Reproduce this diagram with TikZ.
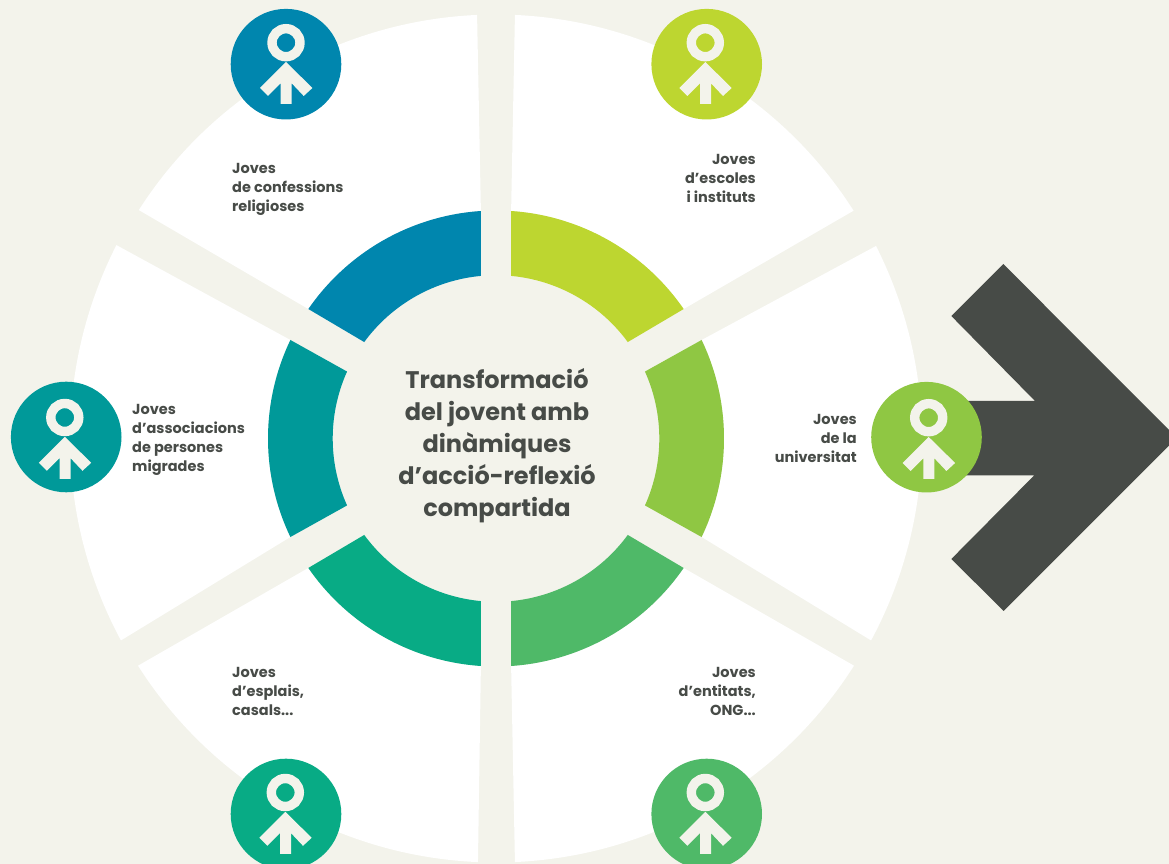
\documentclass[tikz,border=0pt]{standalone}
\usepackage{fontspec}
\setmainfont{Poppins}
\definecolor{bgc}{HTML}{F3F3EB}
\definecolor{darkc}{HTML}{474B47}
\definecolor{cblue}{HTML}{0086AE}
\definecolor{clime}{HTML}{BDD630}
\definecolor{cgreen}{HTML}{8FC743}
\definecolor{cgreenb}{HTML}{4FB968}
\definecolor{cteal}{HTML}{08AB85}
\definecolor{cteall}{HTML}{009999}
\tikzset{
  labeltext/.style={text=darkc,inner sep=0pt,font=\fontsize{14.5}{19}\selectfont\bfseries},
  titletext/.style={text=darkc,inner sep=0pt,align=center,font=\fontsize{24}{32}\selectfont\bfseries},
  badge/.style={circle,inner sep=0pt,minimum size=110.6pt,fill=#1},
}
% band: outer start/end angles, inner end/start angles, outer and inner radius, colour
\newcommand{\bandshape}[7]{%
  \fill[#7] (#1:#5pt) arc[start angle=#1,end angle=#2,radius=#5pt]
    -- (#3:#6pt) arc[start angle=#3,end angle=#4,radius=#6pt] -- cycle;}
\newcommand{\personmark}[2]{%
  \begin{scope}[shift={(#1,#2)}]
    \draw[bgc,line width=9.4pt] (-1.4,21.5) circle[radius=14pt];
    \fill[bgc] (-1.4,2.2) -- (25,-23.8) -- (16.3,-31.8) -- (4.3,-19.1) -- (4.3,-39.8)
      -- (-6.7,-39.8) -- (-6.7,-19.1) -- (-19.4,-31.8) -- (-27.4,-23.8) -- cycle;
  \end{scope}}
\begin{document}
\begin{tikzpicture}[x=1pt,y=1pt]
\clip (0,0) rectangle (1169,864);
\fill[bgc] (0,0) rectangle (1169,864);
\begin{scope}[shift={(496,425.5)}]
  % white sectors
  \bandshape{87.44}{32.5}{34.6}{86.2}{424}{228}{white}
  \bandshape{26.87}{-28.3}{-25.6}{25.6}{426}{228}{white}
  \bandshape{-32.4}{-87.44}{-86.2}{-34.6}{424}{228}{white}
  \bandshape{267.56}{212.4}{214.6}{266.2}{424}{228}{white}
  \bandshape{208.3}{153}{154.4}{205.6}{426}{228}{white}
  \bandshape{147.4}{92.56}{93.8}{145.4}{424}{228}{white}
  % coloured ring
  \bandshape{86.2}{34.6}{36.2}{84.7}{228}{163.3}{clime}
  \bandshape{25.6}{-25.6}{-24.2}{24.2}{228}{163.3}{cgreen}
  \bandshape{-34.6}{-86.2}{-84.7}{-36.2}{228}{163.3}{cgreenb}
  \bandshape{266.2}{214.6}{216.2}{264.7}{228}{163.3}{cteal}
  \bandshape{205.6}{154.4}{155.8}{204.2}{228}{163.3}{cteall}
  \bandshape{145.4}{93.8}{95.3}{143.8}{228}{163.3}{cblue}
\end{scope}
% dark arrow
\fill[darkc] (1003.3,600) -- (951.3,548) -- (1035,463) -- (960,463) -- (960,388.7) -- (1034.3,388.7)
  -- (951.3,305) -- (1003.7,253) -- (1169,418.3) -- (1169,434) -- cycle;
% badges
\node[badge=cblue] (b1) at (286,799.8) {};
\node[badge=clime] (b2) at (706.7,799.8) {};
\node[badge=cgreen] (b3) at (926.5,426.8) {};
\node[badge=cgreenb] (b4) at (706.7,50) {};
\node[badge=cteal] (b5) at (286,50) {};
\node[badge=cteall] (b6) at (66.2,427) {};
\personmark{287.4}{799.8}
\personmark{706.7}{799.8}
\personmark{930.1}{424.8}
\personmark{706.7}{50}
\personmark{286.7}{50}
\personmark{66.2}{425}
% texts
\node[titletext] (title) at (497,418) {Transformació\\del jovent amb\\dinàmiques\\d’acció-reflexió\\compartida};
\node[labeltext,align=left,anchor=west] (t1) at (232,675) {Joves\\de confessions\\religioses};
\node[labeltext,align=right,anchor=east] (t2) at (756,686) {Joves\\d’escoles\\i instituts};
\node[labeltext,align=right,anchor=east] (t3) at (857,426) {Joves\\de la\\universitat};
\node[labeltext,align=right,anchor=east] (t4) at (756,173) {Joves\\d’entitats,\\ONG...};
\node[labeltext,align=left,anchor=west] (t5) at (232,173) {Joves\\d’esplais,\\casals...};
\node[labeltext,align=left,anchor=west] (t6) at (132,424) {Joves\\d’associacions\\de persones\\migrades};
\end{tikzpicture}
\end{document}
